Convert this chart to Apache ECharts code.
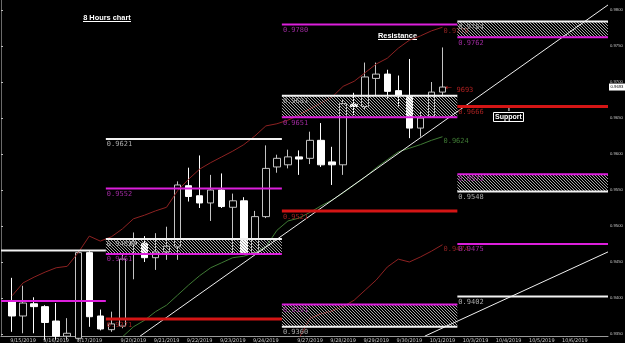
<!DOCTYPE html>
<html>
<head>
<meta charset="utf-8">
<script src="https://cdn.jsdelivr.net/npm/echarts@6/dist/echarts.min.js"></script>
<style>
  html, body { margin: 0; background: #000; }
  #chart { width: 625px; height: 343px; }
</style>
</head>
<body>
<div id="chart"></div>
<script>
// 8h bars, slot 1..40 (slot 0 and the future slots stay empty)
const openP = [0.9396, 0.9375, 0.9392, 0.9388, 0.9368, 0.9347, 0.9344, 0.9463, 0.9375, 0.9356,
  0.9361, 0.9475, 0.9476, 0.9456, 0.9464, 0.9471, 0.9556, 0.9542, 0.9532, 0.9550,
  0.9526, 0.9535, 0.9463, 0.9513, 0.9582, 0.9585, 0.9596, 0.9594, 0.9619, 0.9589,
  0.9585, 0.9669, 0.9666, 0.9705, 0.9711, 0.9688, 0.9681, 0.9636, 0.9652, 0.9686]
const closeP = [0.9375, 0.9393, 0.9388, 0.9366, 0.9347, 0.9351, 0.9463, 0.9374, 0.9357, 0.9364,
  0.9454, 0.9478, 0.9456, 0.9464, 0.9472, 0.9557, 0.9541, 0.9532, 0.9550, 0.9527,
  0.9535, 0.9463, 0.9513, 0.9580, 0.9594, 0.9596, 0.9593, 0.9619, 0.9585, 0.9585,
  0.9670, 0.9666, 0.9707, 0.9711, 0.9687, 0.9682, 0.9636, 0.9650, 0.9686, 0.9693]
const lowP = [0.9353, 0.9351, 0.9351, 0.9342, 0.9342, 0.9342, 0.9342, 0.9360, 0.9355, 0.9353,
  0.9358, 0.9426, 0.9450, 0.9439, 0.9453, 0.9453, 0.9534, 0.9525, 0.9507, 0.9525,
  0.9462, 0.9461, 0.9461, 0.9511, 0.9574, 0.9580, 0.9571, 0.9586, 0.9582, 0.9557,
  0.9571, 0.9654, 0.9661, 0.9680, 0.9677, 0.9666, 0.9622, 0.9624, 0.9650, 0.9682]
const highP = [0.9428, 0.9417, 0.9401, 0.9390, 0.9393, 0.9372, 0.9465, 0.9465, 0.9384, 0.9381,
  0.9460, 0.9491, 0.9486, 0.9490, 0.9499, 0.9562, 0.9581, 0.9598, 0.9571, 0.9573,
  0.9545, 0.9540, 0.9521, 0.9612, 0.9599, 0.9606, 0.9605, 0.9631, 0.9643, 0.9610,
  0.9675, 0.9685, 0.9727, 0.9727, 0.9717, 0.9709, 0.9732, 0.9659, 0.9700, 0.9748]

// moving averages (red from slot 1, green from slot 11, lower red from slot 27)
const redMA = [0.9403, 0.9421, 0.9429, 0.9436, 0.9442, 0.9444, 0.9463, 0.9486, 0.9479, 0.9485,
  0.9496, 0.9510, 0.9515, 0.9521, 0.9526, 0.9549, 0.9565, 0.9579, 0.9588, 0.9596,
  0.9604, 0.9613, 0.9625, 0.9639, 0.9642, 0.9647, 0.9654, 0.9663, 0.9671, 0.9679,
  0.9694, 0.9701, 0.9713, 0.9725, 0.9733, 0.9747, 0.9758, 0.9764, 0.9771, 0.9776]
const greenMA = [0.9346, 0.9360, 0.9369, 0.9381, 0.9390, 0.9404, 0.9418, 0.9431, 0.9442, 0.9449,
  0.9456, 0.9458, 0.9463, 0.9471, 0.9494, 0.9507, 0.9511, 0.9519, 0.9528, 0.9536,
  0.9546, 0.9557, 0.9568, 0.9581, 0.9592, 0.9603, 0.9608, 0.9613, 0.9619, 0.9624]
const lowRedMA = [0.9344, 0.9372, 0.9378, 0.9382, 0.9388, 0.9397, 0.9411, 0.9425, 0.9443, 0.9454,
  0.9450, 0.9457, 0.9465, 0.9474]

const slotCount = 56
const dateSlots = [2, 5, 8, 12, 15, 18, 21, 24, 28, 31, 34, 37, 40, 43, 46, 49, 52]
const dateLabels = ['9/15/2019', '9/16/2019', '9/17/2019', '9/20/2019', '9/21/2019', '9/22/2019',
  '9/23/2019', '9/24/2019', '9/27/2019', '9/28/2019', '9/29/2019', '9/30/2019', '10/1/2019',
  '10/3/2019', '10/4/2019', '10/5/2019', '10/6/2019']
const priceTicks = [0.935, 0.94, 0.945, 0.95, 0.955, 0.96, 0.965, 0.97, 0.975, 0.98]

// level sections (in bar slots) and the levels drawn in each: [section, price]
const sectionX = [0, 9.5, 25.45, 41.35, 55]
const whiteLevels = [[0, 0.9466], [1, 0.9621], [1, 0.9482], [2, 0.9681], [2, 0.9360],
  [3, 0.9784], [3, 0.9548], [3, 0.9402]]
const magentaLevels = [[0, 0.9396], [1, 0.9552], [1, 0.9461], [2, 0.9780], [2, 0.9651],
  [2, 0.9391], [3, 0.9762], [3, 0.9572], [3, 0.9475]]
const redLevels = [[1, 0.9371], [2, 0.9521], [3, 0.9666]]
const zones = [[1, 0.9482, 0.9461], [2, 0.9681, 0.9651], [2, 0.9391, 0.9360],
  [3, 0.9784, 0.9762], [3, 0.9572, 0.9548]]

// trendlines: [slot, price]
const trendUp = [[12.6, 0.9347], [55, 0.9807]]
const trendLow = [[38.4, 0.9347], [55, 0.9464]]

const yMin = 0.934722
const yMax = 0.981389

const categories = []
for (let i = 0; i < slotCount; i++) {
  const k = dateSlots.indexOf(i)
  categories.push(k >= 0 ? dateLabels[k] : '')
}

const candles = ['-']
for (let i = 0; i < openP.length; i++)
  candles.push([openP[i], closeP[i], lowP[i], highP[i]])

const pad = (n, arr) => new Array(n).fill(null).concat(arr)

function hatchCanvas() {
  const c = document.createElement('canvas')
  c.width = 3
  c.height = 3
  const g = c.getContext('2d')
  g.fillStyle = '#a6a6a6'
  for (let i = 0; i < 3; i++) g.fillRect(i, i, 1, 1)
  return c
}
const hatch = hatchCanvas()

// MT4 draws these objects in xor mode, so magenta turns green over white bodies
function levelSeries(list, color, width, labelColor, blend) {
  return {
    type: 'custom',
    xAxisIndex: 1,
    yAxisIndex: 0,
    z: 6,
    clip: true,
    silent: true,
    encode: { x: [0, 1], y: 2 },
    data: list.map(([s, v]) => [sectionX[s], sectionX[s + 1], v]),
    renderItem: (params, api) => {
      const a = api.coord([api.value(0), api.value(2)])
      const b = api.coord([api.value(1), api.value(2)])
      const sec = list[params.dataIndex][0]
      const lineStyle = { stroke: color, lineWidth: width }
      if (blend) lineStyle.blend = blend
      return {
        type: 'group',
        children: [
          { type: 'line', shape: { x1: a[0], y1: a[1], x2: b[0], y2: b[1] }, style: lineStyle },
          {
            type: 'text',
            x: a[0] + 1,
            y: a[1] + width / 2 + 1,
            style: {
              text: sec ? api.value(2).toFixed(4) : '',
              fill: labelColor,
              font: '7px "DejaVu Sans Mono"',
              align: 'left',
              verticalAlign: 'top',
            },
          },
        ],
      }
    },
  }
}

function maSeries(data, start, color) {
  return {
    type: 'line',
    xAxisIndex: 0,
    yAxisIndex: 0,
    data: pad(start, data),
    symbol: 'none',
    z: 3,
    silent: true,
    lineStyle: { color, width: 1 },
    endLabel: {
      show: true,
      distance: 1,
      offset: [0, 4],
      color,
      fontSize: 7,
      fontFamily: 'DejaVu Sans Mono',
      formatter: p => Number(p.value).toFixed(4),
    },
  }
}

const chart = echarts.init(document.getElementById('chart'))

const option = {
  backgroundColor: '#000',
  animation: false,
  grid: { left: 1, right: 17, top: 0, bottom: 7, containLabel: false, outerBoundsMode: 'none' },
  xAxis: [
    {
      type: 'category',
      data: categories,
      boundaryGap: false,
      axisLine: { lineStyle: { color: '#9a9a9a' } },
      axisTick: { show: false },
      axisLabel: { interval: 0, color: '#c8c8c8', fontSize: 5, margin: 2, fontFamily: 'DejaVu Sans' },
      splitLine: { show: false },
    },
    { type: 'value', min: 0, max: slotCount - 1, show: false },
  ],
  yAxis: [
    {
      type: 'value',
      position: 'right',
      min: yMin,
      max: yMax,
      splitLine: { show: false },
      axisLine: { show: true, lineStyle: { color: '#bdbdbd' } },
      axisTick: { show: true, length: 2, customValues: priceTicks, lineStyle: { color: '#bdbdbd' } },
      axisLabel: {
        customValues: priceTicks,
        formatter: v => v.toFixed(4),
        fontSize: 4.2,
        color: '#c8c8c8',
        margin: 2,
        fontFamily: 'Liberation Sans',
      },
    },
    {
      type: 'value',
      position: 'left',
      min: yMin,
      max: yMax,
      axisLine: { show: true, lineStyle: { color: '#6a6a6a' } },
      axisTick: { show: false },
      axisLabel: { show: false },
      splitLine: { show: false },
    },
  ],
  series: [
    {
      type: 'candlestick',
      xAxisIndex: 0,
      yAxisIndex: 0,
      data: candles,
      barWidth: 7,
      z: 2,
      itemStyle: {
        color: '#000',
        borderColor: '#c4c4c4',
        color0: '#fff',
        borderColor0: '#fff',
        borderWidth: 1,
      },
    },
    maSeries(redMA, 1, '#8e2222'),
    maSeries(greenMA, 11, '#3f7a34'),
    maSeries(lowRedMA, 27, '#8e2222'),
    {
      type: 'custom',
      xAxisIndex: 1,
      yAxisIndex: 0,
      z: 4,
      clip: true,
      silent: true,
      encode: { x: [0, 1], y: [2, 3] },
      data: zones.map(([s, top, bottom]) => [sectionX[s], sectionX[s + 1], top, bottom]),
      renderItem: (params, api) => {
        const a = api.coord([api.value(0), api.value(2)])
        const b = api.coord([api.value(1), api.value(3)])
        return {
          type: 'rect',
          shape: { x: a[0], y: a[1], width: b[0] - a[0], height: b[1] - a[1] },
          style: { fill: { image: hatch, repeat: 'repeat' }, blend: 'difference' },
        }
      },
    },
    {
      type: 'line',
      xAxisIndex: 1,
      yAxisIndex: 0,
      data: trendUp,
      symbol: 'none',
      z: 5,
      silent: true,
      lineStyle: { color: '#f0f0f0', width: 1 },
    },
    {
      type: 'line',
      xAxisIndex: 1,
      yAxisIndex: 0,
      data: trendLow,
      symbol: 'none',
      z: 5,
      silent: true,
      lineStyle: { color: '#f0f0f0', width: 1 },
    },
    levelSeries(whiteLevels, '#f2f2f2', 2, '#a9a9a9'),
    levelSeries(magentaLevels, '#dc1fdc', 2, '#9c2a9c', 'difference'),
    levelSeries(redLevels, '#d41515', 3, '#a02020'),
  ],
}

chart.setOption(option)

// annotations and the last price tag
const lastClose = closeP[closeP.length - 1]
const py = chart.convertToPixel({ yAxisIndex: 0 }, lastClose)
const px = chart.convertToPixel({ xAxisIndex: 1 }, closeP.length)
const boldFont = 'bold 7.4px "Liberation Sans"'

chart.setOption({
  graphic: [
    { type: 'text', x: 107, y: 17.5, style: { text: '8 Hours chart', fill: '#fff', font: boldFont, textAlign: 'center', textVerticalAlign: 'middle' } },
    { type: 'line', shape: { x1: 83, y1: 21.5, x2: 131, y2: 21.5 }, style: { stroke: '#fff', lineWidth: 1 } },
    { type: 'text', x: 397.5, y: 35.5, style: { text: 'Resistance', fill: '#fff', font: boldFont, textAlign: 'center', textVerticalAlign: 'middle' } },
    { type: 'line', shape: { x1: 378, y1: 39.5, x2: 417, y2: 39.5 }, style: { stroke: '#fff', lineWidth: 1 } },
    { type: 'rect', shape: { x: 493.5, y: 112.5, width: 30, height: 9 }, style: { fill: '#000', stroke: '#fff', lineWidth: 1 } },
    { type: 'text', x: 508.5, y: 117, style: { text: 'Support', fill: '#fff', font: 'bold 7px "Liberation Sans"', textAlign: 'center', textVerticalAlign: 'middle' } },
    { type: 'text', x: 509, y: 109, style: { text: '↑', fill: '#fff', font: 'bold 7px "DejaVu Sans"', textAlign: 'center', textVerticalAlign: 'middle' } },
    { type: 'rect', shape: { x: 609, y: py - 3.5, width: 16, height: 7 }, style: { fill: '#fff' } },
    { type: 'text', x: 617, y: py, style: { text: lastClose.toFixed(4), fill: '#000', font: '4.2px "Liberation Sans"', textAlign: 'center', textVerticalAlign: 'middle' } },
    { type: 'text', x: px + 3, y: py + 1, style: { text: '←', fill: '#c02020', font: '8px "DejaVu Sans"', textAlign: 'left', textVerticalAlign: 'middle' } },
    { type: 'text', x: px + 14, y: py + 3, style: { text: '9693', fill: '#b02020', font: '7px "DejaVu Sans Mono"', textAlign: 'left', textVerticalAlign: 'middle' } },
  ],
})
</script>
</body>
</html>
